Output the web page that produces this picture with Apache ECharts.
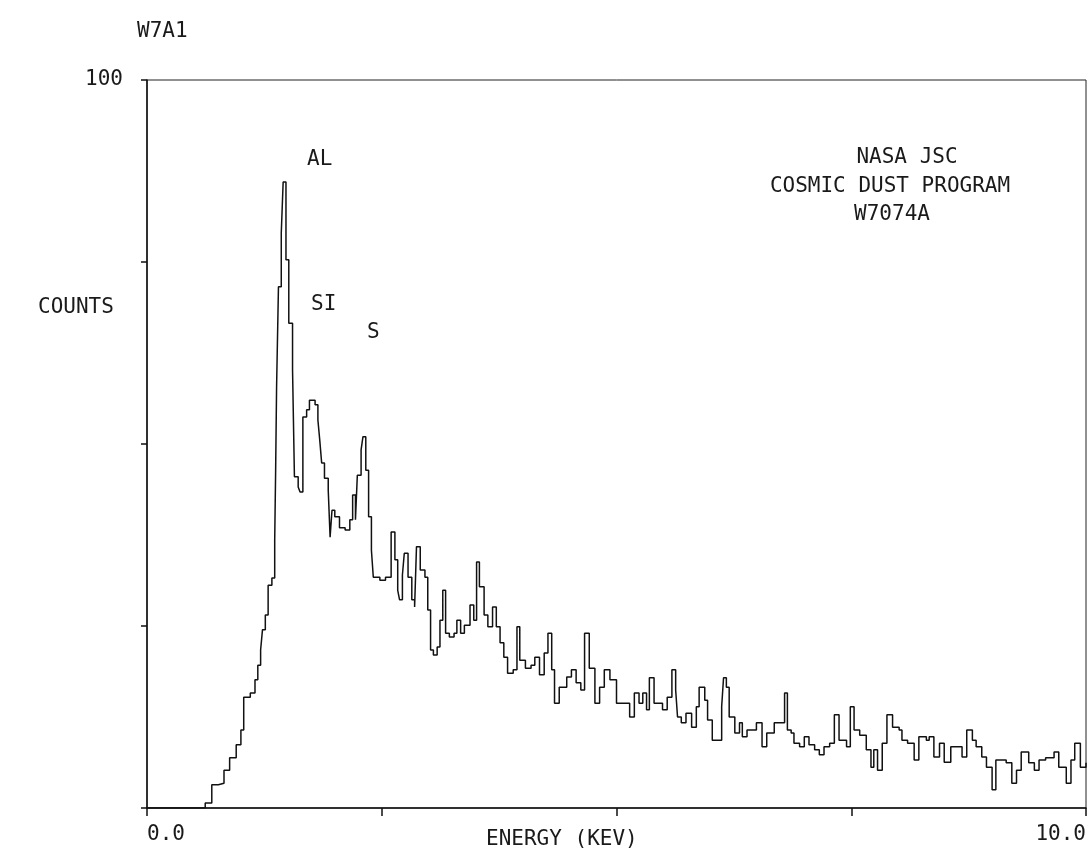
<!DOCTYPE html>
<html>
<head>
<meta charset="utf-8">
<script src="https://cdn.jsdelivr.net/npm/echarts@6/dist/echarts.min.js"></script>
<style>html,body{margin:0;padding:0;background:#fff}#c{width:1089px;height:858px}</style>
</head>
<body>
<div id="c"></div>
<script>
// Energy (keV) at the start of each step, and counts held until the next step
const energies = [0,0.62,0.69,0.76,0.82,0.88,0.95,1.00,1.03,1.10,1.15,1.18,1.21,1.23,1.26,1.29,1.33,1.36,1.37,1.38,1.40,1.43,1.45,1.48,1.51,1.55,1.57,1.61,1.63,1.66,1.70,1.73,1.79,1.82,1.84,1.86,1.89,1.93,1.95,1.97,2.00,2.05,2.11,2.16,2.19,2.22,2.24,2.28,2.30,2.33,2.36,2.39,2.41,2.48,2.54,2.60,2.64,2.67,2.69,2.72,2.74,2.78,2.82,2.85,2.87,2.91,2.96,2.99,3.02,3.05,3.09,3.12,3.15,3.18,3.22,3.27,3.30,3.34,3.38,3.44,3.48,3.51,3.54,3.59,3.63,3.68,3.72,3.76,3.80,3.84,3.90,3.94,3.97,4.03,4.09,4.13,4.18,4.23,4.27,4.31,4.34,4.39,4.47,4.52,4.57,4.62,4.66,4.71,4.77,4.82,4.87,4.93,5.00,5.09,5.14,5.19,5.24,5.28,5.32,5.35,5.40,5.49,5.54,5.59,5.63,5.65,5.69,5.74,5.80,5.85,5.88,5.94,5.97,6.02,6.07,6.12,6.14,6.17,6.20,6.26,6.31,6.34,6.39,6.49,6.55,6.60,6.68,6.73,6.79,6.82,6.86,6.89,6.95,7.00,7.05,7.11,7.16,7.21,7.27,7.32,7.37,7.45,7.49,7.53,7.59,7.66,7.71,7.74,7.78,7.83,7.88,7.94,8.01,8.04,8.10,8.17,8.22,8.30,8.33,8.38,8.44,8.49,8.56,8.63,8.68,8.73,8.79,8.83,8.89,8.94,9.00,9.04,9.10,9.15,9.21,9.26,9.31,9.39,9.45,9.50,9.57,9.66,9.71,9.79,9.84,9.88,9.94,10.0];
const counts = [0,0.7,3.2,3.4,5.2,6.9,8.7,10.7,15.2,15.8,17.6,19.6,21.7,24.5,26.5,30.6,31.6,36.8,46.4,57.8,71.6,79.0,86.0,75.3,66.6,60.2,45.5,44.1,43.4,53.7,54.7,56.0,55.4,53.3,50.5,47.4,45.3,43.7,37.2,40.9,40.0,38.5,38.2,39.6,43.0,39.6,45.7,49.2,51.0,46.4,40.0,35.4,31.7,31.3,31.7,37.9,34.1,29.9,28.6,32.0,35.0,31.7,28.6,27.6,35.9,32.7,31.7,27.2,21.7,21.0,22.1,25.8,29.9,24.0,23.5,24.0,25.8,24.0,25.1,27.9,25.8,33.8,30.4,26.5,24.9,27.6,24.9,22.7,20.7,18.5,19.0,24.9,20.3,19.2,19.6,20.7,18.3,21.3,24.0,19.0,14.4,16.6,18.0,19.0,17.2,16.2,24.0,19.2,14.4,16.6,19.0,17.6,14.4,14.4,12.5,15.8,14.4,15.8,13.5,17.9,14.4,13.5,15.2,19.0,16.2,12.5,11.7,13.0,11.1,13.9,16.6,14.8,12.1,9.3,9.3,13.9,17.9,16.6,12.5,10.3,11.7,9.8,10.7,11.7,8.4,10.3,11.7,11.7,15.8,10.7,10.3,8.9,8.4,9.8,8.7,8.0,7.3,8.4,8.9,12.8,9.3,8.4,13.9,10.7,10.0,8.0,5.6,8.0,5.2,8.9,12.8,11.1,10.7,9.3,8.9,6.6,9.8,9.3,9.8,7.0,8.9,6.3,8.4,8.4,7.0,10.7,9.3,8.4,7.0,5.6,2.5,6.6,6.6,6.2,3.4,5.2,7.7,6.2,5.2,6.6,6.9,7.7,5.6,3.4,6.6,8.9,5.6,6.2];
const xTickLabels = {0: '0.0', 10: '10.0'};
const yTickLabels = {100: '100'};
const peakLabels = ['AL', 'SI', 'S'];
const infoLines = ['NASA JSC', 'COSMIC DUST PROGRAM', 'W7074A'];

const FONT = 'DejaVu Sans Mono';
const TXT = '#1a1a1a';
const chart = echarts.init(document.getElementById('c'), null, {renderer: 'canvas'});
function txt(x, y, s, align) {
  return {type: 'text', style: {x: x, y: y, text: s, fill: TXT, font: '21px "' + FONT + '"', align: align || 'left', verticalAlign: 'middle'}};
}
chart.setOption({
  animation: false,
  backgroundColor: '#fff',
  grid: {left: 147, right: 2, top: 80, bottom: 50, show: true, borderColor: '#222', borderWidth: 1},
  xAxis: {
    type: 'value', min: 0, max: 10, interval: 2.5,
    axisLine: {lineStyle: {color: '#111', width: 1.5}},
    axisTick: {show: true, length: 8, lineStyle: {color: '#111', width: 1.5}},
    splitLine: {show: false},
    axisLabel: {margin: 16, color: TXT, fontFamily: FONT, fontSize: 21, alignMinLabel: 'left', alignMaxLabel: 'right',
      formatter: v => xTickLabels[v] || ''}
  },
  yAxis: {
    type: 'value', min: 0, max: 100, interval: 25,
    axisLine: {show: true, lineStyle: {color: '#111', width: 1.5}},
    axisTick: {show: true, length: 6, lineStyle: {color: '#111', width: 1.5}},
    splitLine: {show: false},
    axisLabel: {margin: 24, padding: [6, 0, 0, 0], color: TXT, fontFamily: FONT, fontSize: 21, formatter: v => yTickLabels[v] || ''}
  },
  series: [{
    type: 'line', step: 'end', showSymbol: false,
    lineStyle: {color: '#111', width: 1.5},
    data: energies.map((e, i) => [e, counts[i]])
  }],
  graphic: [
    txt(137, 32, 'W7A1'),
    txt(38, 308, 'COUNTS'),
    txt(486, 840, 'ENERGY (KEV)'),
    txt(307, 160, peakLabels[0]),
    txt(311, 305, peakLabels[1]),
    txt(367, 333, peakLabels[2]),
    txt(907, 158, infoLines[0], 'center'),
    txt(890, 187, infoLines[1], 'center'),
    txt(892, 215, infoLines[2], 'center')
  ]
});
</script>
</body>
</html>
